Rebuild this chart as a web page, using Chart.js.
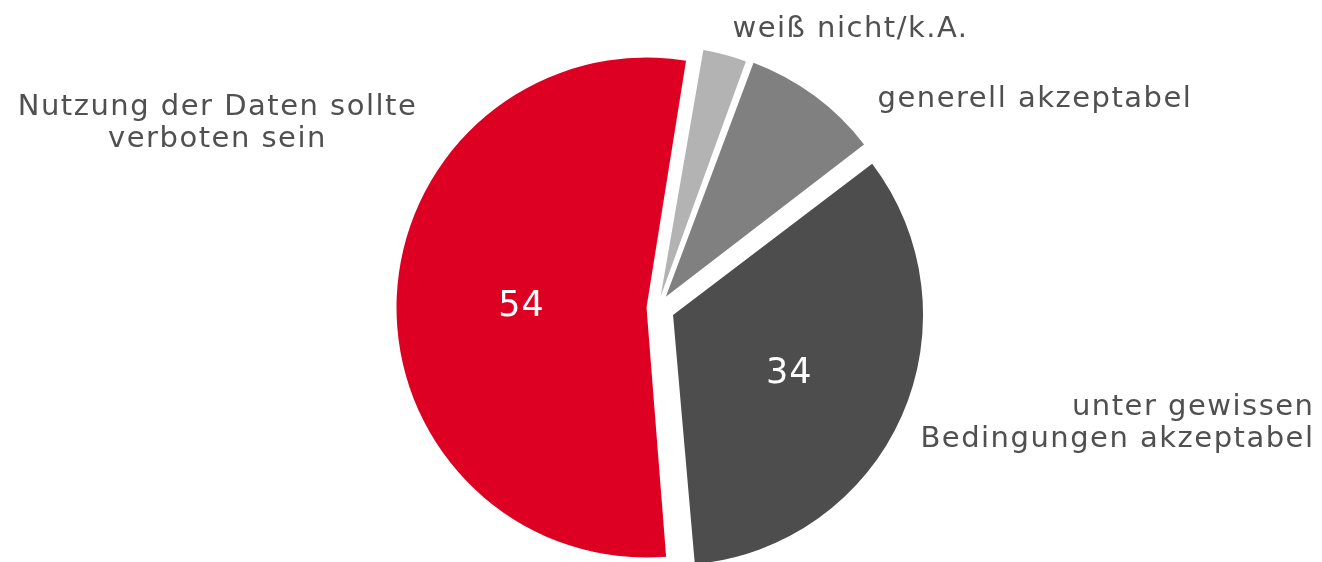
<!DOCTYPE html>
<html>
<head>
<meta charset="utf-8">
<script src="https://cdn.jsdelivr.net/npm/chart.js@4.4.1/dist/chart.umd.min.js"></script>
<style>
  html, body { margin: 0; padding: 0; background: #ffffff; }
  #wrap { width: 1322px; height: 562px; position: relative; }
</style>
</head>
<body>
<div id="wrap"><canvas id="c" width="1322" height="562"></canvas></div>
<script>
// ---- data ----
const categories = ['weiß nicht/k.A.', 'generell akzeptabel', 'unter gewissen Bedingungen akzeptabel', 'Nutzung der Daten sollte verboten sein'];
const labelLines = [['weiß nicht/k.A.'], ['generell akzeptabel'], ['unter gewissen', 'Bedingungen akzeptabel'], ['Nutzung der Daten sollte', 'verboten sein']];
const values = [3, 9, 34, 54];
const showValue = [false, false, true, true];

// ---- style ----
const colors = ['#B3B3B3', '#808080', '#4D4D4D', '#DE0022'];
const pieRadius = 250;
// explode distance per slice (px) -> Chart.js offset = 4 * distance
const explode = [12, 14, 17, 11];
const offsets = explode.map(d => d * 4);
const valueNudge = [[0, 0], [0, 0], [2, 8], [0, 4]];
const labelPlacement = [
  { dx: 75, dy: -271, align: 'left' },
  { dx: 220, dy: -201, align: 'left' },
  { dx: 657, dy: 107, align: 'right' },
  { dx: -440, dy: -193, align: 'center' }
];
const lineHeight = 31.5;
const textColor = '#505050';
const labelFont = '29px "DejaVu Sans"';
const labelSpacing = '1.5px';
const valueFont = '35px "DejaVu Sans"';

// keep every slice at the same visible radius (Chart.js grows exploded slices)
const radiusFix = {
  id: 'radiusFix',
  afterDatasetsUpdate(chart) {
    chart.getDatasetMeta(0).data.forEach(arc => {
      const off = (arc.options.offset || 0) / 4;
      const fix = 1 - Math.sin(Math.min(Math.PI, arc.circumference || 0));
      arc.outerRadius = pieRadius - off * fix;
    });
  }
};

const labelPlugin = {
  id: 'pieLabels',
  afterDatasetsDraw(chart) {
    const ctx = chart.ctx;
    const meta = chart.getDatasetMeta(0);
    meta.data.forEach((arc, i) => {
      const mid = (arc.startAngle + arc.endAngle) / 2;
      const shift = (arc.options.offset || 0) / 4;
      const cx = arc.x + Math.cos(mid) * shift;
      const cy = arc.y + Math.sin(mid) * shift;
      ctx.save();
      if (showValue[i]) {
        ctx.font = valueFont;
        ctx.fillStyle = '#ffffff';
        ctx.textAlign = 'center';
        ctx.textBaseline = 'middle';
        ctx.letterSpacing = '1px';
        ctx.fillText(String(values[i]),
          cx + Math.cos(mid) * pieRadius * 0.5 + valueNudge[i][0],
          cy + Math.sin(mid) * pieRadius * 0.5 + valueNudge[i][1]);
      }
      const lp = labelPlacement[i];
      ctx.font = labelFont;
      ctx.fillStyle = textColor;
      ctx.textAlign = lp.align;
      ctx.textBaseline = 'alphabetic';
      ctx.letterSpacing = labelSpacing;
      labelLines[i].forEach((line, k) => {
        ctx.fillText(line, arc.x + lp.dx, arc.y + lp.dy + k * lineHeight);
      });
      ctx.restore();
    });
  }
};

new Chart(document.getElementById('c'), {
  type: 'pie',
  data: {
    labels: categories,
    datasets: [{
      data: values,
      backgroundColor: colors,
      borderWidth: 0,
      offset: offsets,
      hoverOffset: 0
    }]
  },
  options: {
    responsive: false,
    animation: false,
    rotation: 9.5,
    radius: pieRadius,
    layout: { padding: { left: 0, right: 7, top: 54, bottom: 0 } },
    plugins: {
      legend: { display: false },
      tooltip: { enabled: false }
    },
    events: []
  },
  plugins: [radiusFix, labelPlugin]
});
</script>
</body>
</html>
